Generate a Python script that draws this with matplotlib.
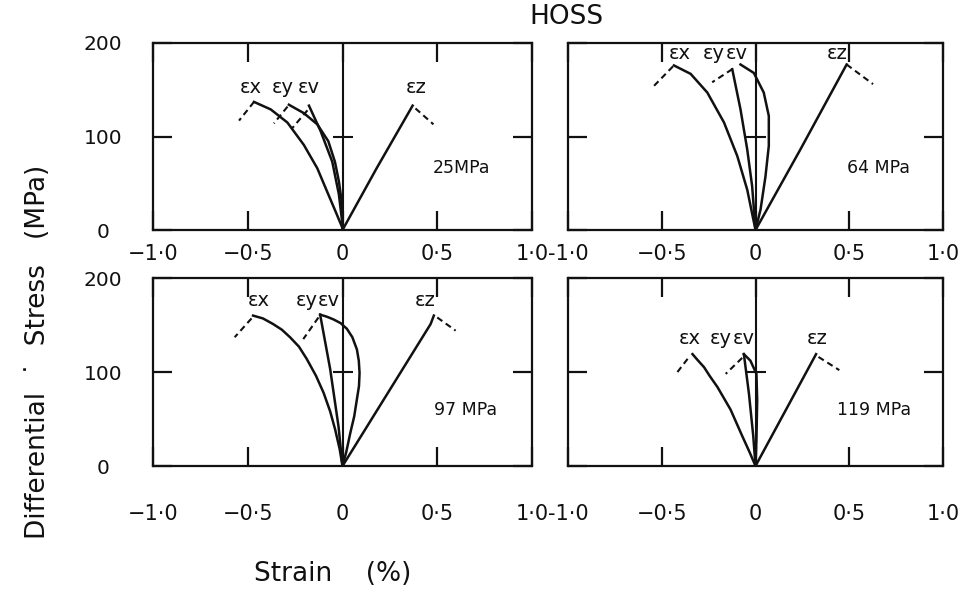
import numpy as np
import matplotlib.pyplot as plt

plt.rcParams['font.family'] = 'DejaVu Sans'

# confining pressures of the four tests
pressures = ['25MPa', '64 MPa', '97 MPa', '119 MPa']

# (strain %, differential stress MPa) for each strain component
ex_25 = [(0, 2), (-0.037, 20), (-0.081, 41), (-0.133, 66), (-0.204, 91), (-0.291, 115), (-0.379, 129), (-0.467, 137)]
ey_25 = [(0, 0), (-0.002, 27), (-0.019, 52), (-0.040, 73), (-0.075, 95), (-0.133, 113), (-0.204, 125), (-0.283, 134)]
ev_25 = [(0, 0), (-0.002, 9), (-0.019, 38), (-0.054, 73), (-0.116, 106), (-0.177, 133)]
ez_25 = [(0, 0), (0.18, 66), (0.37, 133)]

ex_64 = [(0, 0), (-0.044, 43), (-0.097, 79), (-0.168, 115), (-0.257, 147), (-0.346, 167), (-0.435, 176)]
ey_64 = [(0, 0), (-0.018, 47), (-0.044, 86), (-0.08, 129), (-0.124, 172)]
ev_64 = [(0, 0), (0.027, 22), (0.053, 57), (0.071, 90), (0.071, 122), (0.044, 147), (-0.009, 168), (-0.08, 177)]
ez_64 = [(0, 0), (0.239, 86), (0.486, 177)]

ex_97 = [(0, 0), (-0.015, 18), (-0.039, 39), (-0.065, 58), (-0.10, 78), (-0.14, 96), (-0.189, 114),
         (-0.23, 127), (-0.277, 137), (-0.32, 145), (-0.366, 151), (-0.42, 157), (-0.472, 160)]
ey_97 = [(0, 0), (-0.021, 42), (-0.065, 103), (-0.118, 161)]
ev_97 = [(0, 0), (0.02, 15), (0.041, 35), (0.062, 53), (0.076, 71), (0.087, 85), (0.09, 99), (0.086, 112),
         (0.076, 124), (0.052, 137), (0.023, 146), (-0.01, 152), (-0.048, 156), (-0.085, 159), (-0.118, 161)]
ez_97 = [(0, 0), (0.465, 151), (0.482, 160)]

ex_119 = [(0, 0), (-0.03, 14), (-0.071, 32), (-0.133, 60), (-0.203, 84), (-0.245, 96), (-0.274, 105), (-0.31, 113), (-0.336, 119)]
ey_119 = [(0, 0), (-0.012, 32), (-0.035, 77), (-0.062, 119)]
ev_119 = [(0, 0), (0.005, 28), (0.009, 70), (0.005, 98), (-0.027, 112), (-0.062, 119)]
ez_119 = [(0, 0), (0.323, 119)]

# post-failure branches (dashed)
post_25 = [[(-0.467, 137), (-0.546, 117)], [(-0.29, 132), (-0.362, 114)],
           [(-0.185, 128), (-0.265, 109)], [(0.385, 130), (0.48, 113)]]
post_64 = [[(-0.44, 175), (-0.542, 154)], [(-0.124, 172), (-0.231, 158)],
           [(0.486, 177), (0.627, 156)]]
post_97 = [[(-0.48, 157), (-0.569, 137)], [(-0.127, 158), (-0.207, 135)],
           [(0.50, 158), (0.597, 144)]]
post_119 = [[(-0.362, 114), (-0.424, 98)], [(-0.071, 115), (-0.159, 98)],
            [(0.336, 116), (0.447, 102)]]

# curve labels: (text, strain, stress)
labels_25 = [('εx', -0.486, 152), ('εy', -0.313, 152), ('εv', -0.177, 152), ('εz', 0.389, 152)]
labels_64 = [('εx', -0.406, 189), ('εy', -0.221, 189), ('εv', -0.10, 189), ('εz', 0.436, 189)]
labels_97 = [('εx', -0.442, 176), ('εy', -0.189, 176), ('εv', -0.074, 176), ('εz', 0.438, 176)]
labels_119 = [('εx', -0.348, 136), ('εy', -0.184, 136), ('εv', -0.062, 136), ('εz', 0.33, 136)]
press_pos = [(0.627, 66), (0.657, 66), (0.65, 60), (0.63, 60)]

xticks = [-1.0, -0.5, 0, 0.5, 1.0]
xticklabels_left = ['−1·0', '−0·5', '0', '0·5', '1·0']
xticklabels_right = ['-1·0', '−0·5', '0', '0·5', '1·0']
yticks = [0, 100, 200]

panels = [
    ([ex_25, ey_25, ev_25, ez_25], post_25, labels_25),
    ([ex_64, ey_64, ev_64, ez_64], post_64, labels_64),
    ([ex_97, ey_97, ev_97, ez_97], post_97, labels_97),
    ([ex_119, ey_119, ev_119, ez_119], post_119, labels_119),
]

W, H = 967, 595
fig = plt.figure(figsize=(W / 100, H / 100), dpi=100)

# axes boxes in pixels: left, right, top, bottom
boxes = [(153, 532, 43, 230), (568, 943, 43, 230),
         (153, 532, 278, 466), (568, 943, 278, 466)]

ink = '#111111'
for i, (box, (curves, post, labels)) in enumerate(zip(boxes, panels)):
    l, r, t, b = box
    ax = fig.add_axes([l / W, 1 - b / H, (r - l) / W, (b - t) / H])
    ax.set_xlim(-1, 1)
    ax.set_ylim(0, 200)

    for c in curves:
        arr = np.array(c)
        ax.plot(arr[:, 0], arr[:, 1], color=ink, lw=1.8, solid_joinstyle='round')
    for seg in post:
        arr = np.array(seg)
        ax.plot(arr[:, 0], arr[:, 1], color=ink, lw=1.5, ls=(0, (3, 2)))
    for txt, x, y in labels:
        ax.text(x, y, txt, fontsize=14, ha='center', va='center', color=ink)
    px, py = press_pos[i]
    ax.text(px, py, pressures[i], fontsize=12.5, ha='center', va='center', color=ink)

    # zero-strain line with the small cross at 100 MPa
    ax.axvline(0, color=ink, lw=1.5)
    ax.plot([0], [100], marker='_', markersize=14, mew=1.5, color=ink)

    for s in ax.spines.values():
        s.set_linewidth(1.6)
        s.set_color(ink)

    ax.set_xticks(xticks)
    ax.set_xticklabels(xticklabels_left if i % 2 == 0 else xticklabels_right)
    ax.set_yticks(yticks)
    ax.tick_params(axis='both', direction='in', length=14, width=1.6, color=ink,
                   top=True, right=True, labelcolor=ink)
    ax.tick_params(axis='x', labelsize=15, pad=27 if i >= 2 else 10)
    if i % 2 == 0:
        ax.tick_params(axis='y', labelsize=14.5, pad=36)
        for tl in ax.get_yticklabels():
            tl.set_horizontalalignment('center')
    else:
        ax.set_yticklabels([])

fig.text(566 / W, 1 - 17 / H, 'HOSS', fontsize=19, ha='center', va='center', color=ink)
fig.text(333 / W, 1 - 574 / H, 'Strain    (%)', fontsize=19, ha='center', va='center', color=ink)
fig.text(38 / W, 1 - 352 / H, 'Differential  ˙  Stress   (MPa)', fontsize=19,
         rotation=90, ha='center', va='center', color=ink)

fig.savefig('out.png', dpi=100, facecolor='white')
